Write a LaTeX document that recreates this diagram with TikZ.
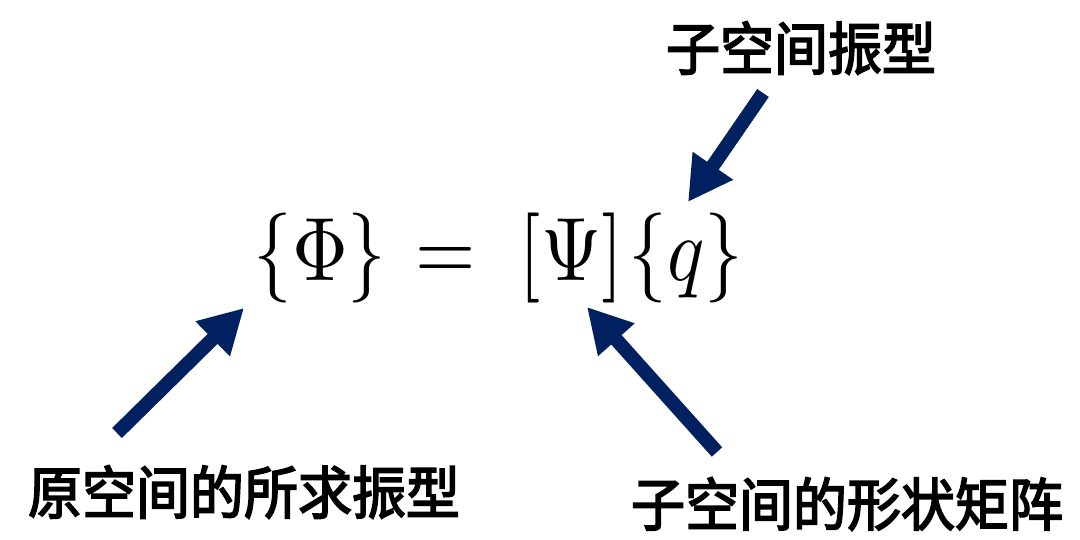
\documentclass[tikz,border=0pt]{standalone}
\usepackage{fontspec}
\usepackage{unicode-math}
\setmathfont{Latin Modern Math}
\newfontfamily\cjk[FakeBold=3]{Noto Sans CJK SC}
\usetikzlibrary{arrows.meta}
\definecolor{darknavy}{HTML}{002060}
\tikzset{
	cjktext/.style={font=\cjk\fontsize{54}{60}\selectfont, inner sep=0pt, yscale=1.06},
	eqpart/.style={font=\fontsize{90}{100}\selectfont, anchor=base, inner sep=0pt, xscale=0.86},
	fatarrow/.style={draw=darknavy, line width=14pt, -{Triangle[length=44pt,width=46pt]}}
}
\begin{document}
\begin{tikzpicture}[x=1pt,y=1pt]
			\useasboundingbox (0,0) rectangle (1080,-539);
			%equation
			\node[eqpart] (phi) at (320,-280){$\{\Phi\}$};
			\node[eqpart] (eq) at (446,-280){$=$};
			\node[eqpart] (psi) at (571,-280){$[\Psi]$};
			\node[eqpart] (q) at (686,-280){$\{q\}$};
			
			%labels
			\node[cjktext] (sub) at (801,-48){子空间振型};
			\node[cjktext] (orig) at (244,-492){原空间的所求振型};
			\node[cjktext] (shape) at (847,-504){子空间的形状矩阵};
			
			%arrows
			\coordinate (origtail) at (117,-433);
			\coordinate (phitip) at (244,-308);
			\coordinate (subtail) at (763,-93);
			\coordinate (qtip) at (688,-202);
			\coordinate (shapetail) at (717,-452);
			\coordinate (psitip) at (587,-307);
			\draw[fatarrow] (origtail) -- (phitip);
			\draw[fatarrow] (subtail) -- (qtip);
			\draw[fatarrow] (shapetail) -- (psitip);
		\end{tikzpicture}
\end{document}
